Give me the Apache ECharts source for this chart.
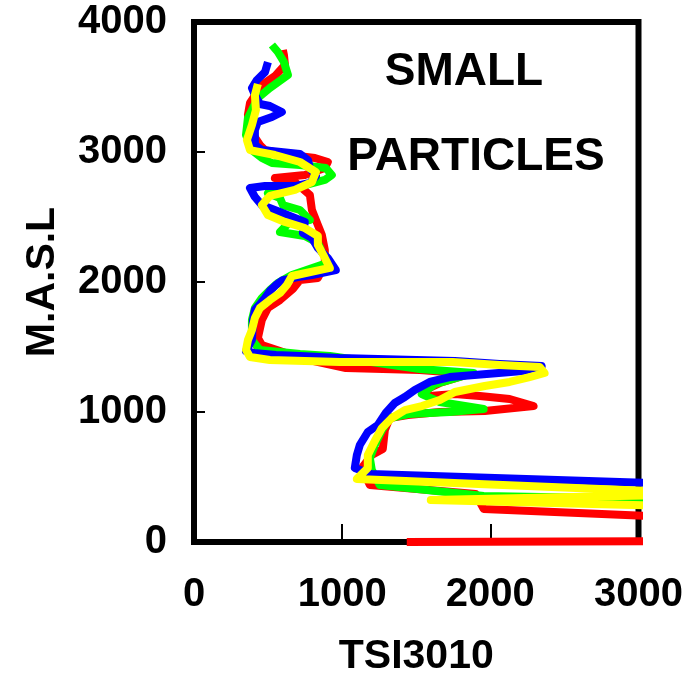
<!DOCTYPE html>
<html>
<head>
<meta charset="utf-8">
<title>TSI3010 profiles</title>
<script src="https://cdn.jsdelivr.net/npm/echarts@6/dist/echarts.min.js"></script>
<style>
  html, body { margin: 0; padding: 0; background: #ffffff; }
  #chart { width: 683px; height: 684px; }
</style>
</head>
<body>
<div id="chart"></div>
<script>
// Particle concentration (TSI3010 counts) against altitude (m a.s.l.), four profiles.
// Each point is [concentration, altitude].
const xTicks = [0, 1000, 2000, 3000];
const yTicks = [0, 1000, 2000, 3000, 4000];

const redProfile = [
  [1436, 0], [3546, 8], [3546, 177], [1955, 254], [1901, 369], [1187, 438],
  [1133, 569], [1200, 669], [1274, 715], [1288, 861], [1321, 954], [1443, 977],
  [1659, 1000], [1962, 1008], [2292, 1046], [2130, 1100], [1928, 1123], [1760, 1138],
  [1591, 1123], [1557, 1169], [1659, 1223], [1814, 1277], [1706, 1308], [1524, 1323],
  [1025, 1338], [715, 1415], [580, 1469], [458, 1515], [431, 1569], [458, 1708],
  [499, 1800], [580, 1861], [667, 1946], [715, 2015], [836, 2031], [883, 2131],
  [883, 2246], [863, 2361], [836, 2438], [796, 2554], [782, 2669], [681, 2769],
  [546, 2800], [748, 2823], [883, 2877], [903, 2923], [816, 2954], [647, 2977],
  [479, 3015], [445, 3054], [378, 3169], [364, 3285], [378, 3377], [458, 3515],
  [546, 3584], [614, 3669], [607, 3746], [600, 3785]
];

const greenProfile = [
  [3546, 323], [1955, 354], [1254, 438], [1200, 554], [1187, 646], [1220, 746],
  [1268, 861], [1321, 954], [1456, 985], [1726, 1000], [1955, 1023], [1659, 1077],
  [1537, 1138], [1625, 1215], [1888, 1300], [1524, 1331], [917, 1431], [715, 1446],
  [445, 1477], [391, 1554], [391, 1708], [411, 1800], [458, 1877], [512, 1938],
  [566, 1992], [661, 2054], [917, 2154], [863, 2231], [836, 2300], [748, 2354],
  [580, 2385], [647, 2462], [782, 2477], [715, 2554], [600, 2592], [580, 2646],
  [499, 2685], [647, 2715], [883, 2785], [930, 2823], [890, 2877], [715, 2900],
  [526, 2915], [458, 2954], [391, 3015], [351, 3131], [364, 3261], [431, 3415],
  [512, 3492], [634, 3592], [607, 3692], [566, 3769], [526, 3823]
];

const blueProfile = [
  [3546, 438], [1193, 523], [1085, 569], [1099, 669], [1119, 746], [1173, 846],
  [1241, 900], [1294, 992], [1355, 1069], [1423, 1115], [1490, 1169], [1591, 1231],
  [1726, 1269], [1975, 1292], [2218, 1315], [2346, 1354], [2063, 1369], [1760, 1392],
  [984, 1415], [715, 1431], [553, 1438], [405, 1454], [351, 1469], [391, 1554],
  [398, 1708], [411, 1785], [445, 1831], [479, 1877], [512, 1931], [553, 1977],
  [600, 2015], [701, 2038], [796, 2054], [957, 2092], [903, 2185], [836, 2262],
  [796, 2338], [735, 2377], [748, 2462], [681, 2492], [580, 2538], [458, 2592],
  [411, 2654], [378, 2723], [479, 2738], [681, 2738], [782, 2762], [823, 2815],
  [782, 2877], [769, 2938], [715, 2985], [458, 3015], [411, 3054], [411, 3169],
  [431, 3231], [526, 3269], [593, 3308], [512, 3354], [445, 3369], [411, 3438],
  [391, 3492], [425, 3554], [479, 3615], [499, 3692]
];

const yellowProfile = [
  [3546, 269], [1598, 323], [3546, 369], [1099, 485], [1173, 569], [1173, 669],
  [1220, 777], [1268, 877], [1335, 954], [1423, 1015], [1537, 1046], [1659, 1092],
  [1760, 1154], [1962, 1200], [2130, 1231], [2265, 1269], [2366, 1300], [2333, 1346],
  [2063, 1361], [1746, 1385], [984, 1385], [512, 1400], [378, 1423], [351, 1477],
  [364, 1554], [391, 1631], [411, 1723], [445, 1800], [512, 1861], [580, 1915],
  [627, 1977], [661, 2046], [917, 2108], [883, 2185], [836, 2285], [836, 2354],
  [748, 2415], [614, 2462], [499, 2515], [458, 2592], [512, 2662], [681, 2708],
  [796, 2769], [823, 2846], [715, 2923], [546, 2977], [378, 3015], [357, 3092],
  [391, 3208], [418, 3323], [411, 3438], [431, 3523]
];

const profiles = [
  { name: 'red', color: '#ff0000', data: redProfile },
  { name: 'green', color: '#00ff00', data: greenProfile },
  { name: 'blue', color: '#0000ff', data: blueProfile },
  { name: 'yellow', color: '#ffff00', data: yellowProfile }
];

const FONT = '"Liberation Sans", Arial, Helvetica, sans-serif';
const plainNumber = v => String(v);

const chart = echarts.init(document.getElementById('chart'), null, { renderer: 'canvas' });

chart.setOption({
  animation: false,
  backgroundColor: '#ffffff',
  grid: {
    left: 194,
    right: 44.5,
    top: 22,
    bottom: 142,
    outerBoundsMode: 'none',
    containLabel: false,
    show: true,
    borderColor: '#000000',
    borderWidth: 6,
    backgroundColor: 'transparent'
  },
  xAxis: {
    type: 'value',
    min: xTicks[0],
    max: xTicks[xTicks.length - 1],
    interval: xTicks[1] - xTicks[0],
    name: 'TSI3010',
    nameLocation: 'middle',
    nameGap: 94,
    nameTextStyle: { fontFamily: FONT, fontWeight: 'bold', fontSize: 41, color: '#000' },
    axisLine: { show: true, lineStyle: { color: '#000', width: 6 } },
    axisTick: { show: true, inside: true, length: 18, lineStyle: { color: '#000', width: 2 } },
    axisLabel: {
      margin: 33, fontFamily: FONT, fontWeight: 'bold', fontSize: 40, color: '#000',
      formatter: plainNumber, hideOverlap: false
    },
    splitLine: { show: false }
  },
  yAxis: {
    type: 'value',
    min: yTicks[0],
    max: yTicks[yTicks.length - 1],
    interval: yTicks[1] - yTicks[0],
    name: 'M.A.S.L',
    nameLocation: 'middle',
    nameGap: 131,
    nameTextStyle: { fontFamily: FONT, fontWeight: 'bold', fontSize: 41, color: '#000' },
    axisLine: { show: true, lineStyle: { color: '#000', width: 6 } },
    axisTick: { show: true, inside: true, length: 11, lineStyle: { color: '#000', width: 2 } },
    axisLabel: {
      margin: 27, fontFamily: FONT, fontWeight: 'bold', fontSize: 40, color: '#000',
      formatter: plainNumber
    },
    splitLine: { show: false }
  },
  graphic: [
    {
      type: 'text', x: 464, y: 72,
      style: { text: 'SMALL', fill: '#000', font: 'bold 46px ' + FONT, align: 'center', verticalAlign: 'middle' }
    },
    {
      type: 'text', x: 476, y: 157,
      style: { text: 'PARTICLES', fill: '#000', font: 'bold 46px ' + FONT, align: 'center', verticalAlign: 'middle' }
    }
  ],
  series: profiles.map(p => ({
    name: p.name,
    type: 'line',
    data: p.data,
    showSymbol: false,
    symbol: 'none',
    clip: true,
    smooth: false,
    lineStyle: { color: p.color, width: 8, join: 'round', cap: 'butt' },
    itemStyle: { color: p.color },
    emphasis: { disabled: true }
  }))
});
</script>
</body>
</html>
